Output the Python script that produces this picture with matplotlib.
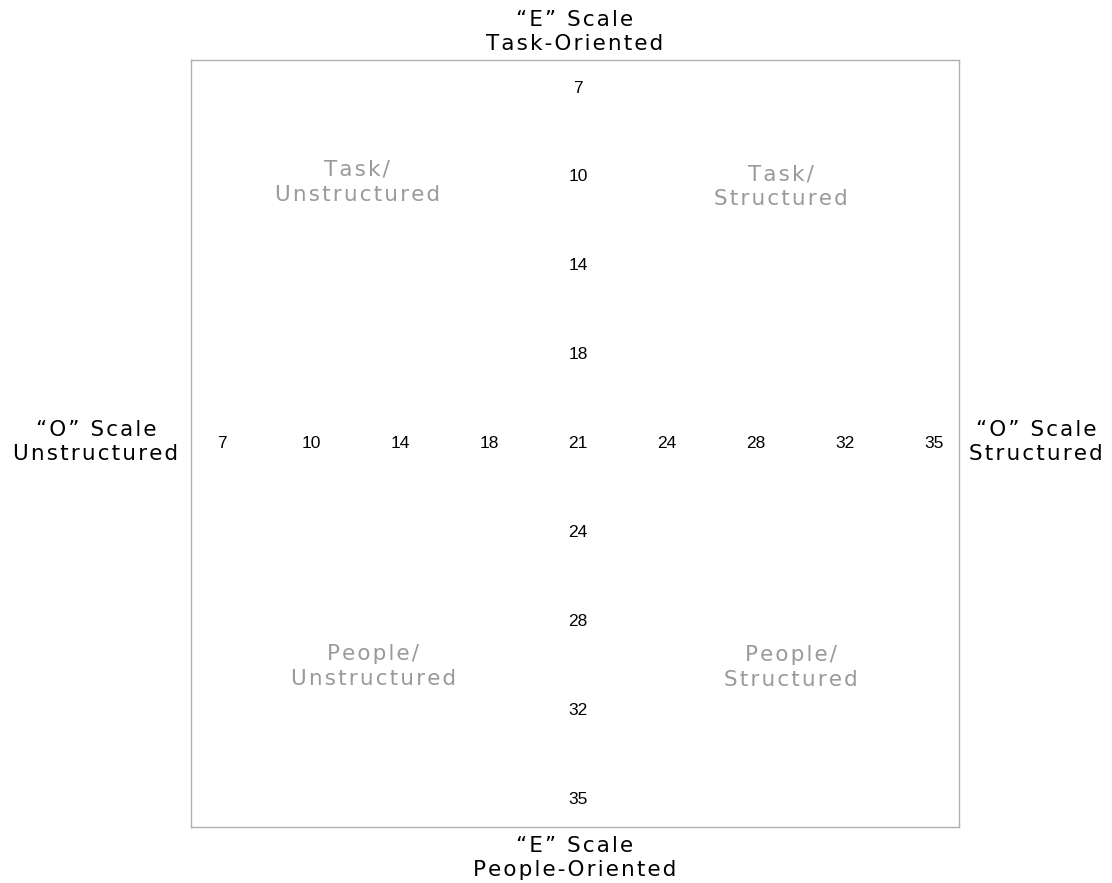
import matplotlib.pyplot as plt

# scale values along the two axes (equally spaced positions)
o_scale = [7, 10, 14, 18, 21, 24, 28, 32, 35]
e_scale = [7, 10, 14, 18, 21, 24, 28, 32, 35]

quadrant_labels = ["Task/\nUnstructured", "Task/\nStructured",
                   "People/\nUnstructured", "People/\nStructured"]
quadrant_pos = [(1.52, 1.06), (6.28, 1.11), (1.70, 6.51), (6.39, 6.52)]

label_font = "DejaVu Sans"
num_font = "Liberation Sans"


def spaced(s):
    # loose letter spacing with hair spaces
    return "\n".join("\u200a".join(line) for line in s.split("\n"))


fig = plt.figure(figsize=(11.12, 8.83), dpi=100)
ax = fig.add_axes([0.1718, 0.0634, 0.6906, 0.8686])
ax.set_xlim(-0.348, 8.28)
ax.set_ylim(8.315, -0.315)
ax.set_xticks([])
ax.set_yticks([])
for s in ax.spines.values():
    s.set_color('#b0b0b0')
    s.set_linewidth(1)

mid = len(o_scale) // 2
for i, v in enumerate(o_scale):
    ax.text(i, mid, str(v), ha='center', va='center', fontsize=12.5,
            family=num_font, color='black')
for i, v in enumerate(e_scale):
    if i == mid:
        continue
    ax.text(mid, i, str(v), ha='center', va='center', fontsize=12.5,
            family=num_font, color='black')

for lab, (x, y) in zip(quadrant_labels, quadrant_pos):
    ax.text(x, y, spaced(lab), ha='center', va='center', fontsize=15.5,
            family=label_font, color='#9a9a9a', linespacing=1.3)

side = dict(ha='center', va='center', fontsize=15.5, family=label_font,
            linespacing=1.3, color='black')
fig.text(575 / 1112, 1 - 32 / 883, spaced("\u201cE\u201d Scale\nTask-Oriented"), **side)
fig.text(575 / 1112, 1 - 858 / 883, spaced("\u201cE\u201d Scale\nPeople-Oriented"), **side)
fig.text(96 / 1112, 1 - 442 / 883, spaced("\u201cO\u201d Scale\nUnstructured"), **side)
fig.text(1036 / 1112, 1 - 442 / 883, spaced("\u201cO\u201d Scale\nStructured"), **side)

plt.savefig('out.png', dpi=100)
plt.close()
